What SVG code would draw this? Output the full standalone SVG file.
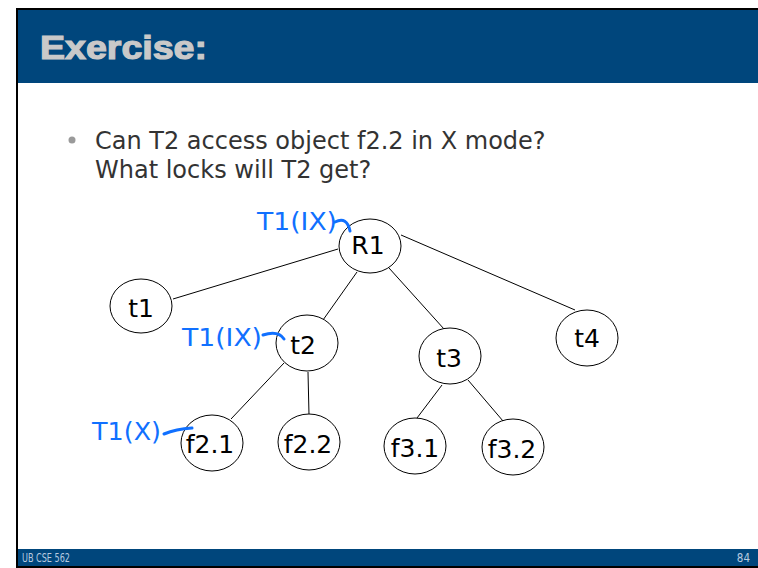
<svg xmlns="http://www.w3.org/2000/svg" width="758" height="568" viewBox="0 0 758 568">
  <style>
    .node ellipse { fill: #ffffff; stroke: #000000; stroke-width: 1; }
    .node text { font-family: "DejaVu Sans", Verdana, sans-serif; font-size: 25px; fill: #000000; text-anchor: middle; }
    .edge { stroke: #000000; stroke-width: 1; fill: none; }
    .lock { font-family: "DejaVu Sans", Verdana, sans-serif; font-size: 24px; fill: #1070ff; }
    .hook { stroke: #1070ff; stroke-width: 3; fill: none; stroke-linecap: round; }
    .body { font-family: "DejaVu Sans", Verdana, sans-serif; font-size: 24px; fill: #333333; }
    .foot { font-family: "DejaVu Sans Condensed", "DejaVu Sans", sans-serif; font-size: 11.5px; fill: #b8cbe0; }
  </style>

  <!-- slide frame -->
  <rect x="0" y="0" width="758" height="568" fill="#ffffff"/>
  <rect x="16" y="8" width="742" height="2" fill="#000000"/>
  <rect x="16" y="8" width="2" height="560" fill="#000000"/>
  <rect x="16" y="566" width="742" height="2" fill="#000000"/>
  <rect x="18" y="10" width="740" height="73" fill="#00467c"/>
  <rect x="18" y="549" width="740" height="17" fill="#00467c"/>

  <!-- title -->
  <text x="40" y="59" font-family="Liberation Sans, Arial, sans-serif" font-weight="bold" font-size="34" fill="#c9c9c9" stroke="#c9c9c9" stroke-width="1.2" textLength="167" lengthAdjust="spacingAndGlyphs">Exercise:</text>

  <!-- bullet text -->
  <circle cx="72" cy="140" r="3.5" fill="#9a9a9a"/>
  <text class="body" x="95" y="149">Can T2 access object f2.2 in X mode?</text>
  <text class="body" x="95" y="178">What locks will T2 get?</text>

  <!-- connectors -->
  <g id="edges">
    <line class="edge" x1="173" y1="299" x2="338" y2="249"/>
    <line class="edge" x1="357" y1="272" x2="323" y2="320"/>
    <line class="edge" x1="389" y1="268" x2="444" y2="329"/>
    <line class="edge" x1="401" y1="235" x2="575" y2="310"/>
    <line class="edge" x1="284" y1="363" x2="231" y2="419"/>
    <line class="edge" x1="308" y1="372" x2="309" y2="415"/>
    <line class="edge" x1="442" y1="385" x2="417" y2="418"/>
    <line class="edge" x1="468" y1="380" x2="503" y2="421"/>
  </g>

  <!-- nodes -->
  <g id="R1" class="node">
    <ellipse cx="370" cy="246" rx="31" ry="27"/>
    <text x="368" y="254">R1</text>
  </g>
  <g id="t1" class="node">
    <ellipse cx="141" cy="306" rx="31" ry="27"/>
    <text x="141" y="317">t1</text>
  </g>
  <g id="t2" class="node">
    <ellipse cx="307" cy="343" rx="31" ry="28"/>
    <text x="303" y="354">t2</text>
  </g>
  <g id="t3" class="node">
    <ellipse cx="450" cy="356" rx="31" ry="28"/>
    <text x="449" y="367">t3</text>
  </g>
  <g id="t4" class="node">
    <ellipse cx="587" cy="338" rx="31" ry="28"/>
    <text x="587" y="347">t4</text>
  </g>
  <g id="f2_1" class="node">
    <ellipse cx="212" cy="443" rx="31" ry="28"/>
    <text x="210" y="453">f2.1</text>
  </g>
  <g id="f2_2" class="node">
    <ellipse cx="309" cy="442" rx="31" ry="28"/>
    <text x="308" y="453">f2.2</text>
  </g>
  <g id="f3_1" class="node">
    <ellipse cx="415" cy="446" rx="31" ry="28"/>
    <text x="415" y="457">f3.1</text>
  </g>
  <g id="f3_2" class="node">
    <ellipse cx="513" cy="447" rx="31" ry="28"/>
    <text x="512" y="458">f3.2</text>
  </g>

  <!-- lock annotations -->
  <g id="locks">
    <text class="lock" x="257" y="230" textLength="80" lengthAdjust="spacingAndGlyphs">T1(IX)</text>
    <path class="hook" d="M335 222 Q347 216 350 231"/>
    <text class="lock" x="182" y="346" textLength="80" lengthAdjust="spacingAndGlyphs">T1(IX)</text>
    <path class="hook" d="M263 335 Q278 330 284 339"/>
    <text class="lock" x="92" y="440" textLength="69" lengthAdjust="spacingAndGlyphs">T1(X)</text>
    <path class="hook" d="M164 434 Q176 429 192 428"/>
  </g>

  <!-- footer -->
  <text class="foot" x="22" y="562" textLength="48" lengthAdjust="spacingAndGlyphs">UB CSE 562</text>
  <text class="foot" x="750" y="562" text-anchor="end">84</text>
</svg>
